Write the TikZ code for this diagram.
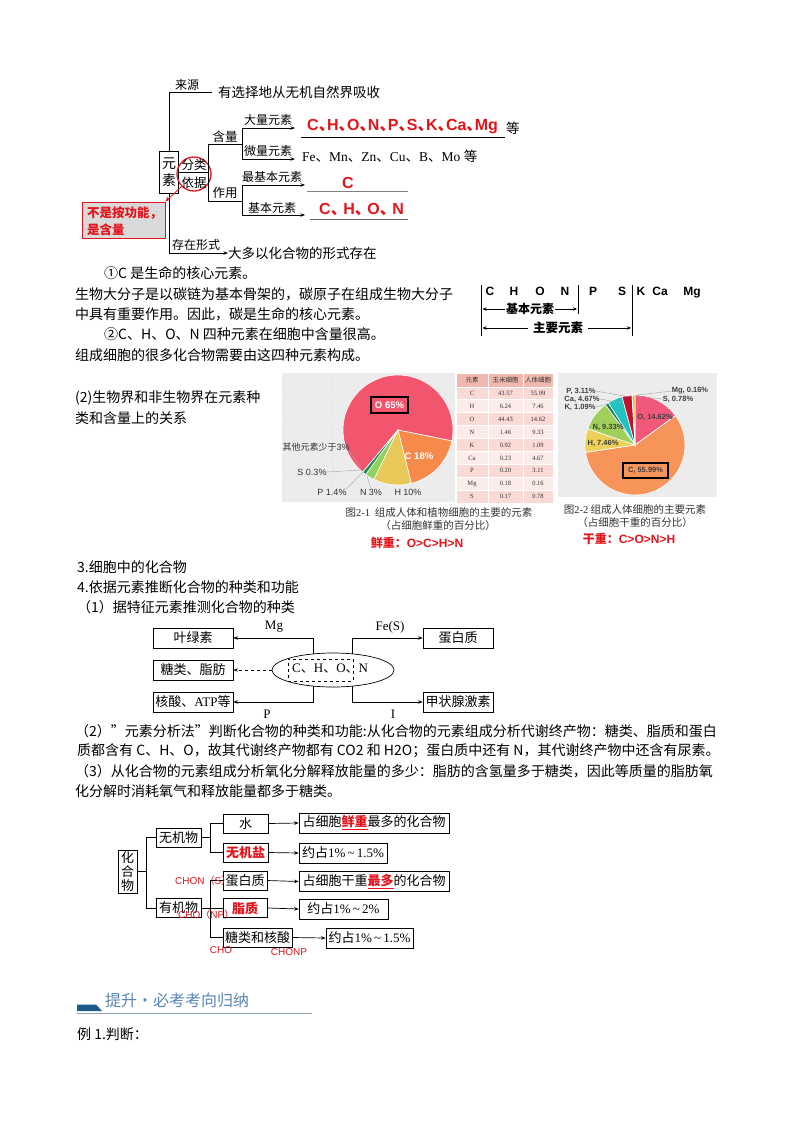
\documentclass[tikz,border=0pt]{standalone}
\usepackage{fontspec}
\setmainfont{Noto Sans CJK SC}
\newfontfamily\ser{Liberation Serif}
\newfontfamily\ssf{Liberation Sans}
\usetikzlibrary{arrows.meta,shapes.geometric,calc}
\newcommand\myfs[1]{\fontsize{#1}{#1}\selectfont}
\newcommand\dn[1]{\makebox[#1][l]{\normalfont\bfseries 、}}
\newcommand\cdn{{\normalfont 、}}
\definecolor{rd}{HTML}{E3141B}
\definecolor{pO}{HTML}{F2566F}
\definecolor{pC}{HTML}{F58A4B}
\definecolor{pH}{HTML}{E9C85A}
\definecolor{pN}{HTML}{8FD25E}
\definecolor{pP}{HTML}{1F8A55}
\definecolor{qO}{HTML}{F0597A}
\definecolor{qC}{HTML}{F7945A}
\definecolor{qH}{HTML}{EDD05A}
\definecolor{qN}{HTML}{A0CF5C}
\definecolor{qK}{HTML}{177A5E}
\definecolor{qCa}{HTML}{22C2C0}
\definecolor{qP}{HTML}{C3122F}
\definecolor{qMg}{HTML}{9A9A9A}
\definecolor{qS}{HTML}{F2B21B}
\definecolor{tbh}{HTML}{F1B8AF}
\definecolor{tbo}{HTML}{FADAD5}
\definecolor{tbe}{HTML}{FCECE9}
\definecolor{pan}{HTML}{ECECEC}
\definecolor{ftb}{HTML}{1D5A8E}
\definecolor{ftt}{HTML}{5A86B7}
\definecolor{ftl}{HTML}{8FA3BA}
\newcommand\pieslice[5]{\path[fill=#5,draw=white,line width=0.6pt] (#1) -- ++(#3:#2) arc[start angle=#3,end angle=#4,radius=#2] -- cycle;}
\begin{document}
\begin{tikzpicture}[x=1pt,y=-1pt,
  ln/.style={line width=0.7pt},
  arr/.style={line width=0.7pt,-{Stealth[length=4.5pt,width=3.5pt]}},
  lab/.style={inner sep=0,font=\myfs{12}},
  body/.style={inner sep=0,anchor=west,font=\myfs{14}},
  bx/.style={draw,line width=0.7pt,inner sep=0,font=\myfs{13}},
  pl/.style={inner sep=0,font=\ssf\myfs{9},text=black!80},
  pq/.style={inner sep=0,font=\ssf\bfseries\myfs{7.5},text=black!75},
  rl/.style={inner sep=0,font=\ssf\myfs{10},text=rd},
  captx/.style={inner sep=0,font=\myfs{10.5},text=black!80},
  tt/.style={inner sep=0,font=\ser\myfs{6.5},text=black!80},
  lead/.style={black!35,line width=0.4pt},
]
\useasboundingbox (0,0) rectangle (794,1123);
\fill[white] (0,0) rectangle (794,1123);

% ================= top tree =================
\node[bx,minimum width=19,minimum height=42,align=center,font=\myfs{14}] (ys) at (169,172) {元\\[3pt]素};
\node[inner sep=0,anchor=west,font=\myfs{13.5}] (src) at (218,92) {有选择地从无机自然界吸收};
\node[inner sep=0,anchor=west,font=\myfs{13.5}] (cz) at (228,253) {大多以化合物的形式存在};
\draw[ln] (ys.north) |- ([xshift=-6pt]src.west);
\draw[arr] (ys.south) |- (cz.west);
\node[lab] (ly) at (187,85) {来源};
\node[lab] (lc) at (196,245) {存在形式};

\node[circle,draw=rd,line width=1.3pt,minimum size=34,inner sep=0] (fl) at (194,174) {};
\node[inner sep=0,font=\myfs{12.5}] (fl1) at (194,164.5) {分类};
\node[inner sep=0,font=\myfs{12.5}] (fl2) at (194,182.5) {依据};
\coordinate (bt) at (208,144);
\coordinate (bb) at (208,201);
\coordinate (bm) at (208,172);
\draw[ln] (ys.east) -- (bm);
\draw[ln] (bt) -- (bb);
\coordinate (g1) at (242,144);
\coordinate (g1a) at (242,128);
\coordinate (g1b) at (242,159);
\coordinate (g2) at (242,201);
\coordinate (g2a) at (242,185);
\coordinate (g2b) at (242,215);
\draw[ln] (bt) -- (g1) (g1a) -- (g1b);
\draw[ln] (bb) -- (g2) (g2a) -- (g2b);
\coordinate (t1) at (295,128);
\coordinate (t2) at (295,159);
\coordinate (t3) at (305,185);
\coordinate (t4) at (305,215);
\draw[arr] (g1a) -- (t1);
\draw[arr] (g1b) -- (t2);
\draw[arr] (g2a) -- (t3);
\draw[arr] (g2b) -- (t4);
\node[lab,font=\myfs{12.5}] (lhl) at (225,136.5) {含量};
\node[lab,font=\myfs{12.5}] (lzy) at (225,192.5) {作用};
\node[lab] (l1) at (268,120) {大量元素};
\node[lab] (l2) at (268,151) {微量元素};
\node[lab] (l3) at (272,177) {最基本元素};
\node[lab] (l4) at (272,208) {基本元素};

\node[anchor=west,inner sep=0,text=rd,font=\ssf\bfseries\myfs{16}] (dl) at (307,127)
 {C\dn{8.4pt}H\dn{8.4pt}O\dn{8.4pt}N\dn{8.4pt}P\dn{8.4pt}S\dn{8.4pt}K\dn{8.4pt}Ca\dn{8.4pt}Mg};
\node[anchor=west,inner sep=0,font=\myfs{13.5}] (deng) at (506,128) {等};
\draw[ln] (301,137.5) -- (505,137.5);
\node[anchor=west,inner sep=0,font=\ser\myfs{13.5}] (wl) at (302,156) {Fe\cdn Mn\cdn Zn\cdn Cu\cdn B\cdn Mo {\normalfont 等}};
\node[inner sep=0,text=rd,font=\ssf\bfseries\myfs{16}] (cc) at (348,183) {C};
\draw[black!50,line width=1pt] (307,191.5) -- (408,191.5);
\node[anchor=west,inner sep=0,text=rd,font=\ssf\bfseries\myfs{16}] (cb) at (319,210) {C\dn{12.5pt}H\dn{12.5pt}O\dn{12.5pt}N};
\draw[black!60,line width=1pt] (310,219.5) -- (408,219.5);

\node[draw=rd,fill=black!15,line width=0.8pt,minimum width=83,minimum height=36,inner sep=0] (rb) at (123.5,220) {};
\node[anchor=west,inner sep=0,text=rd,font=\bfseries\myfs{12.5},align=left] (rbt) at (87,221) {不是按功能，\\[3pt]是含量};
\draw[rd,line width=0.8pt,-{Stealth[length=5pt,width=4pt]}] (fl.225) -- (rb.north east);

% ================= text block =================
\node[body] (x1) at (104,273) {①C 是生命的核心元素。};
\node[body] (x2) at (75,294) {生物大分子是以碳链为基本骨架的，碳原子在组成生物大分子};
\node[body] (x3) at (75,314) {中具有重要作用。因此，碳是生命的核心元素。};
\node[body] (x4) at (104,334) {②C、H、O、N 四种元素在细胞中含量很高。};
\node[body] (x5) at (75,355) {组成细胞的很多化合物需要由这四种元素构成。};

% CHON diagram
\foreach \nm/\xx/\tx in {e1/490/C,e2/514/H,e3/540/O,e4/565/N,e5/593/P,e6/622/S,e7/641/K,e8/660/Ca,e9/692/Mg}
  \node[inner sep=0,anchor=base,font=\ssf\bfseries\myfs{12}] (\nm) at (\xx,295.5) {\tx};
\coordinate (v1a) at (481,285); \coordinate (v1b) at (481,336);
\coordinate (v2a) at (578,285); \coordinate (v2b) at (578,314);
\coordinate (v3a) at (632,285); \coordinate (v3b) at (632,336);
\draw[line width=1pt] (v1a) -- (v1b) (v2a) -- (v2b) (v3a) -- (v3b);
\coordinate (a1l) at (482.5,309); \coordinate (a1r) at (577,309);
\coordinate (a2l) at (482.5,328); \coordinate (a2r) at (631,328);
\draw[line width=0.8pt,{Stealth[length=4pt,width=3.5pt]}-{Stealth[length=4pt,width=3.5pt]}] (a1l) -- (a1r);
\draw[line width=0.8pt,{Stealth[length=4pt,width=3.5pt]}-{Stealth[length=4pt,width=3.5pt]}] (a2l) -- (a2r);
\node[fill=white,inner xsep=1pt,inner ysep=0,font=\bfseries\myfs{12}] (jb) at (530,309) {基本元素};
\node[fill=white,inner xsep=5pt,inner ysep=0,font=\bfseries\myfs{12.5}] (zy) at (558,328) {主要元素};

% ================= pie section =================
\node[body] (y1) at (75,398) {(2)生物界和非生物界在元素种};
\node[body] (y2) at (75,418) {类和含量上的关系};

% left panel
\fill[pan] (282,373) rectangle (455,502);
\foreach \gx in {305,332,358,385,412,438} \draw[black!9,line width=0.4pt] (\gx,373) -- (\gx,502);
\foreach \gy in {395,422,448,475} \draw[black!9,line width=0.4pt] (282,\gy) -- (455,\gy);
\coordinate (pc1) at (398,430);
\pieslice{pc1}{55pt}{-11.5}{230}{pO}
\pieslice{pc1}{55pt}{-11.5}{-76}{pC}
\pieslice{pc1}{55pt}{-76}{-116}{pH}
\pieslice{pc1}{55pt}{-116}{-126}{pN}
\pieslice{pc1}{55pt}{-126}{-130}{pP}
\node[draw=black,line width=1.8pt,minimum width=37,minimum height=16,inner sep=0,font=\ssf\bfseries\myfs{9.5},text=white] (lo) at (389.5,405) {O 65\%};
\node[inner sep=0,font=\ssf\bfseries\myfs{9.5},text=white] (lcc) at (419,456) {C 18\%};
\node[pl] (lq) at (316,447) {\normalfont 其他元素少于{\ssf 3\%}};
\node[pl] (ls) at (312,472) {S 0.3\%};
\node[pl] (lp) at (332,492) {P 1.4\%};
\node[pl] (ln) at (371,492) {N 3\%};
\node[pl] (lh) at (408,492) {H 10\%};
\coordinate (k1) at (361,469); \coordinate (k2) at (361,470);
\coordinate (k3) at (363,472); \coordinate (k4) at (367,476);
\draw[lead] (lq.south east) -- (k1);
\draw[lead] (ls.east) -- (k2);
\draw[lead] (lp.north east) -- (k3);
\draw[lead] (ln.north) -- (k4);

% table
\foreach \i in {0,...,9}{
  \pgfmathsetmacro\ya{374+12.9*\i}
  \pgfmathsetmacro\yb{374+12.9*(\i+1)}
  \ifnum\i=0 \def\rc{tbh}\else\ifodd\i \def\rc{tbo}\else\def\rc{tbe}\fi\fi
  \fill[\rc] (457,\ya) rectangle (553,\yb);
}
\foreach \i in {1,...,9} \draw[white,line width=0.8pt] (457,{374+12.9*\i}) -- (553,{374+12.9*\i});
\draw[white,line width=0.8pt] (488,374) -- (488,503) (523,374) -- (523,503);
\node[inner sep=0,font=\myfs{6.5},text=black!80] (th1) at (472,380.5) {元素};
\node[inner sep=0,font=\myfs{6.5},text=black!80] (th2) at (505.5,380.5) {玉米细胞};
\node[inner sep=0,font=\myfs{6.5},text=black!80] (th3) at (538,380.5) {人体细胞};
\foreach \i/\a/\b/\c in {1/C/43.57/55.99,2/H/6.24/7.46,3/O/44.43/14.62,4/N/1.46/9.33,5/K/0.92/1.09,6/Ca/0.23/4.67,7/P/0.20/3.11,8/Mg/0.18/0.16,9/S/0.17/0.78}{
  \node[tt] (ta\i) at (472,{380.5+12.9*\i}) {\a};
  \node[tt] (tb\i) at (505.5,{380.5+12.9*\i}) {\b};
  \node[tt] (tc\i) at (538,{380.5+12.9*\i}) {\c};
}

% right panel
\fill[pan] (558,373) rectangle (717,497);
\foreach \gx in {572,598,624,650,676,702} \foreach \gy in {395,425,455,485} \fill[black!12] (\gx,\gy) circle[radius=0.6pt];
\coordinate (pc2) at (635,445);
\pieslice{pc2}{50pt}{90}{35.86}{qO}
\pieslice{pc2}{50pt}{35.86}{-171.49}{qC}
\pieslice{pc2}{50pt}{-171.49}{-199.12}{qH}
\pieslice{pc2}{50pt}{-199.12}{-233.67}{qN}
\pieslice{pc2}{50pt}{-233.67}{-237.71}{qK}
\pieslice{pc2}{50pt}{-237.71}{-255.0}{qCa}
\pieslice{pc2}{50pt}{-255.0}{-266.52}{qP}
\pieslice{pc2}{50pt}{-266.52}{-267.11}{qMg}
\pieslice{pc2}{50pt}{-267.11}{-270}{qS}
\node[pq] (rp) at (581,391) {P, 3.11\%};
\node[pq] (rca) at (582,399) {Ca, 4.67\%};
\node[pq] (rk) at (580,407) {K, 1.09\%};
\node[pq] (rmg) at (690,391) {Mg, 0.16\%};
\node[pq] (rs) at (678,399) {S, 0.78\%};
\node[pq] (ro) at (655,417) {O, 14.62\%};
\node[pq] (rn) at (608,427) {N, 9.33\%};
\node[pq] (rh) at (603,443) {H, 7.46\%};
\node[draw=black,line width=1.8pt,minimum width=45,minimum height=15,inner sep=0,font=\ssf\bfseries\myfs{7.5},text=black!75] (rc) at (645.5,470.5) {C, 55.99\%};
\coordinate (j1) at (630,397); \coordinate (j2) at (623,403); \coordinate (j3) at (608,404);
\coordinate (j4) at (637,395); \coordinate (j5) at (635,396);
\draw[lead] (rp.east) -- (j1);
\draw[lead] (rca.east) -- (j2);
\draw[lead] (rk.east) -- (j3);
\draw[lead] (rmg.west) -- (j4);
\draw[lead] (rs.west) -- (j5);

% captions
\node[captx] (c1) at (439,513) {图{\ser 2-1}\ \ 组成人体和植物细胞的主要的元素};
\node[captx] (c2) at (438,525.5) {（占细胞鲜重的百分比）};
\node[inner sep=0,font=\bfseries\myfs{12},text=rd] (c3) at (417,543) {鲜重：{\ssf O>C>H>N}};
\node[captx] (c4) at (635,510) {图{\ser 2-2} 组成人体细胞的主要元素};
\node[captx] (c5) at (635,522.5) {（占细胞干重的百分比）};
\node[inner sep=0,font=\bfseries\myfs{12},text=rd] (c6) at (629,539) {干重：{\ssf C>O>N>H}};

% ================= section 3/4 =================
\node[body] (s3) at (77,567) {3.细胞中的化合物};
\node[body] (s4) at (77,587) {4.依据元素推断化合物的种类和功能};
\node[body] (s5) at (77,607) {（1）据特征元素推测化合物的种类};

\node[bx,minimum width=80,minimum height=20] (yls) at (193,638) {叶绿素};
\node[bx,minimum width=80,minimum height=20] (tlz) at (193,670) {糖类、脂肪};
\node[bx,minimum width=80,minimum height=20] (hs) at (193,702) {核酸、{\ser ATP}等};
\node[bx,minimum width=70,minimum height=20] (dbz) at (458,638) {蛋白质};
\node[bx,minimum width=70,minimum height=20] (jz) at (458,702) {甲状腺激素};
\coordinate (ml) at (313,670);
\coordinate (mr) at (352,670);
\draw[arr] (ml) |- (yls.east);
\draw[arr] (mr) |- (dbz.west);
\draw[arr] (ml) |- (hs.east);
\draw[arr] (mr) |- (jz.west);
\node[ellipse,draw,fill=white,line width=0.7pt,minimum width=122,minimum height=34,inner sep=0] (el) at (333,670) {};
\node[draw,dashed,line width=0.6pt,minimum width=65,minimum height=22,inner sep=0] (dr) at (320.5,670) {};
\node[anchor=west,inner sep=0,font=\ser\myfs{13}] (chon) at (292,669) {C\cdn H\cdn O\cdn N};
\draw[arr,dashed] (el.west) -- (tlz.east);
\node[inner sep=0,font=\ser\myfs{13}] (lmg) at (274,627) {Mg};
\node[inner sep=0,font=\ser\myfs{13}] (lfe) at (390,627) {Fe(S)};
\node[inner sep=0,font=\ser\myfs{13}] (lpp) at (267,714) {P};
\node[inner sep=0,font=\ser\myfs{13}] (lii) at (393,714) {I};

% ================= paragraphs =================
\node[body] (p1) at (75,731) {（2）”元素分析法”判断化合物的种类和功能:从化合物的元素组成分析代谢终产物：糖类、脂质和蛋白};
\node[body] (p2) at (77,751) {质都含有 C、H、O，故其代谢终产物都有 CO2 和 H2O；蛋白质中还有 N，其代谢终产物中还含有尿素。};
\node[body] (p3) at (75,771) {（3）从化合物的元素组成分析氧化分解释放能量的多少：脂肪的含氢量多于糖类，因此等质量的脂肪氧};
\node[body] (p4) at (75,791) {化分解时消耗氧气和释放能量都多于糖类。};

% ================= bottom tree =================
\node[bx,minimum width=19,minimum height=43,align=center,font=\myfs{13}] (hhw) at (127.5,871.5) {化\\[1pt]合\\[1pt]物};
\node[bx,minimum width=45,minimum height=19] (wjw) at (178.5,837.5) {无机物};
\node[bx,minimum width=45,minimum height=19] (yjw) at (178.5,908) {有机物};
\node[bx,minimum width=45,minimum height=19] (shui) at (245.5,823.5) {水};
\node[bx,minimum width=45,minimum height=19,text=rd,font=\bfseries\myfs{13}] (wjy) at (245.5,852.5) {无机盐};
\node[bx,minimum width=44,minimum height=19] (dbz2) at (245,880.5) {蛋白质};
\node[bx,minimum width=44,minimum height=19,text=rd,font=\bfseries\myfs{13}] (zz) at (245,908) {脂质};
\node[bx,minimum width=69,minimum height=19] (tlhs) at (257.5,937.5) {糖类和核酸};
\node[bx,minimum width=150,minimum height=20] (b1) at (374,823) {占细胞\textcolor{rd}{\bfseries\underline{鲜重}}最多的化合物};
\node[bx,minimum width=88,minimum height=20] (b2) at (343,853) {约占{\ser 1\%\,\textasciitilde\,1.5\%}};
\node[bx,minimum width=150,minimum height=20] (b3) at (374,881.5) {占细胞干重\textcolor{rd}{\bfseries\underline{最多}}的化合物};
\node[bx,minimum width=89,minimum height=20] (b4) at (343.5,909) {约占{\ser 1\%\,\textasciitilde\,2\%}};
\node[bx,minimum width=87,minimum height=20] (b5) at (369.5,938) {约占{\ser 1\%\,\textasciitilde\,1.5\%}};
\coordinate (h1) at (146,871.5);
\coordinate (w1) at (210,837.5);
\coordinate (y1a) at (210,880.5);
\coordinate (y1b) at (210,937.5);
\draw[ln] (hhw.east) -- (h1);
\draw[ln] (h1) |- (wjw.west);
\draw[ln] (h1) |- (yjw.west);
\draw[ln] (wjw.east) -- (w1);
\draw[ln] (w1) |- (shui.west);
\draw[ln] (w1) |- (wjy.west);
\draw[ln] (yjw.east) -- (zz.west);
\draw[ln] (y1a) -- (y1b);
\draw[ln] (y1a) -- (dbz2.west);
\draw[ln] (y1b) -- (tlhs.west);
\draw[arr] (shui.east) -- (b1.west);
\draw[arr] (wjy.east) -- (b2.west);
\draw[arr] (dbz2.east) -- (b3.west);
\draw[arr] (zz.east) -- (b4.west);
\draw[arr] (tlhs.east) -- (b5.west);
\node[rl,anchor=west] (r1) at (175,881) {CHON{\normalfont （}S{\normalfont ）}};
\node[rl,anchor=west] (r2) at (178,915) {CHO{\normalfont （}NP{\normalfont ）}};
\node[rl] (r3) at (221,950) {CHO};
\node[rl] (r4) at (289,952) {CHONP};

% ================= footer =================
\fill[ftb] (77,1011) -- (77,1004.5) -- (96,1004.5) -- (102,1011) -- cycle;
\node[inner sep=0,anchor=west,font=\myfs{16},text=ftt] (ft) at (105,1000) {提升•必考考向归纳};
\draw[ftl,line width=1pt] (77,1013.5) -- (312,1013.5);
\node[body] (ex) at (77,1034) {例 1.判断：};
\end{tikzpicture}
\end{document}
